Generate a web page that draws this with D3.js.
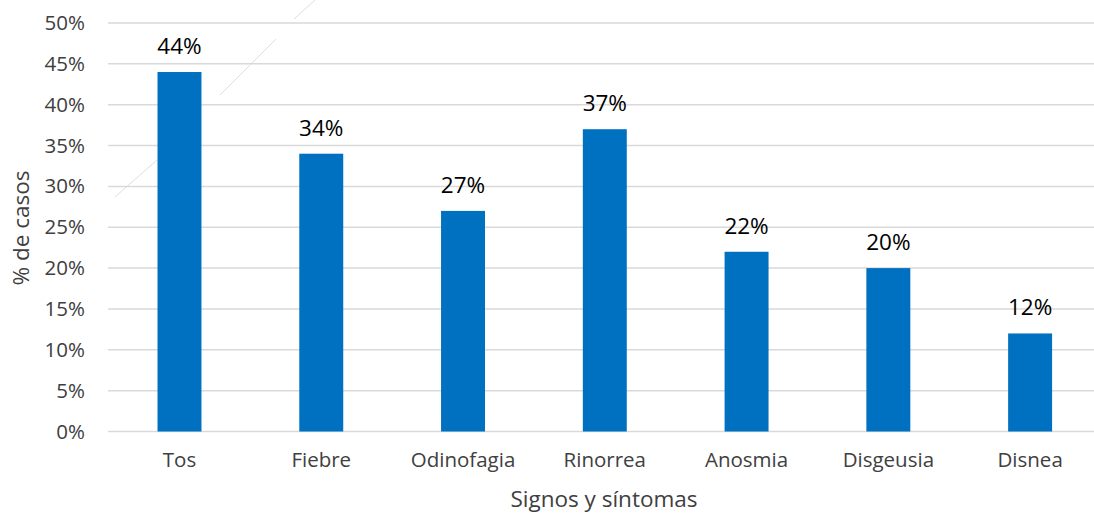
<!DOCTYPE html>
<html><head><meta charset="utf-8">
<script src="https://cdn.jsdelivr.net/npm/d3@7"></script>
<style>body{margin:0;background:#fff}svg{display:block;font-family:"Open Sans","Noto Sans",sans-serif}</style>
</head><body><svg id="c" width="1094" height="514"></svg>
<script>
const categories = ["Tos","Fiebre","Odinofagia","Rinorrea","Anosmia","Disgeusia","Disnea"];
const values = [0.44,0.34,0.27,0.37,0.22,0.20,0.12];
const yTicks = [0,0.05,0.10,0.15,0.20,0.25,0.30,0.35,0.40,0.45,0.50];
const yTitle = "% de casos";
const xTitle = "Signos y síntomas";

const svg = d3.select("#c");
const W = 1094, H = 514;
const x = d3.scaleBand().domain(categories).range([108.6, 1101]).paddingInner(0.69).paddingOuter(0.345);
const y = d3.scaleLinear().domain([0,0.5]).range([431.5, 23]);
const fmt = d3.format(".0%");

// faint artifact line
svg.append("g").attr("stroke","#dedede").attr("stroke-width",1)
  .selectAll("line").data([[115,197,157,160],[220,95,276,39],[294,19,315,0]]).join("line")
  .attr("x1",d=>d[0]).attr("y1",d=>d[1]).attr("x2",d=>d[2]).attr("y2",d=>d[3]);

// gridlines
svg.append("g").selectAll("line").data(yTicks).join("line")
  .attr("x1",108).attr("x2",W).attr("y1",d=>y(d)).attr("y2",d=>y(d))
  .attr("stroke","#d9d9d9").attr("stroke-width",1.5);

// y axis labels
const ya = svg.append("g").attr("transform","translate(108,0)").call(d3.axisLeft(y).tickValues(yTicks).tickFormat(fmt).tickSize(0).tickPadding(23));
ya.select(".domain").remove();
ya.selectAll("text").attr("font-size",20.5).attr("fill","#404040").attr("font-family","'Open Sans',sans-serif");

// bars
svg.append("g").selectAll("rect").data(values).join("rect")
  .attr("x",(d,i)=>x(categories[i])).attr("width",x.bandwidth())
  .attr("y",d=>y(d)).attr("height",d=>y(0)-y(d)).attr("fill","#0070C0");

// data labels
svg.append("g").selectAll("text").data(values).join("text")
  .attr("x",(d,i)=>x(categories[i])+x.bandwidth()/2).attr("y",d=>y(d)-18)
  .attr("text-anchor","middle").attr("font-size",22.5).attr("fill","#000").text(d=>fmt(d));

// x axis labels
const xa = svg.append("g").attr("transform","translate(0,431.5)").call(d3.axisBottom(x).tickSize(0).tickPadding(21));
xa.select(".domain").remove();
xa.selectAll("text").attr("font-size",20.5).attr("fill","#404040").attr("font-family","'Open Sans',sans-serif");

// titles
svg.append("text").attr("x",604).attr("y",507).attr("text-anchor","middle").attr("font-size",22.5).attr("fill","#404040").text(xTitle);
svg.append("text").attr("transform","translate(29,228) rotate(-90)").attr("text-anchor","middle").attr("font-size",22.5).attr("fill","#404040").text(yTitle);
</script></body></html>
